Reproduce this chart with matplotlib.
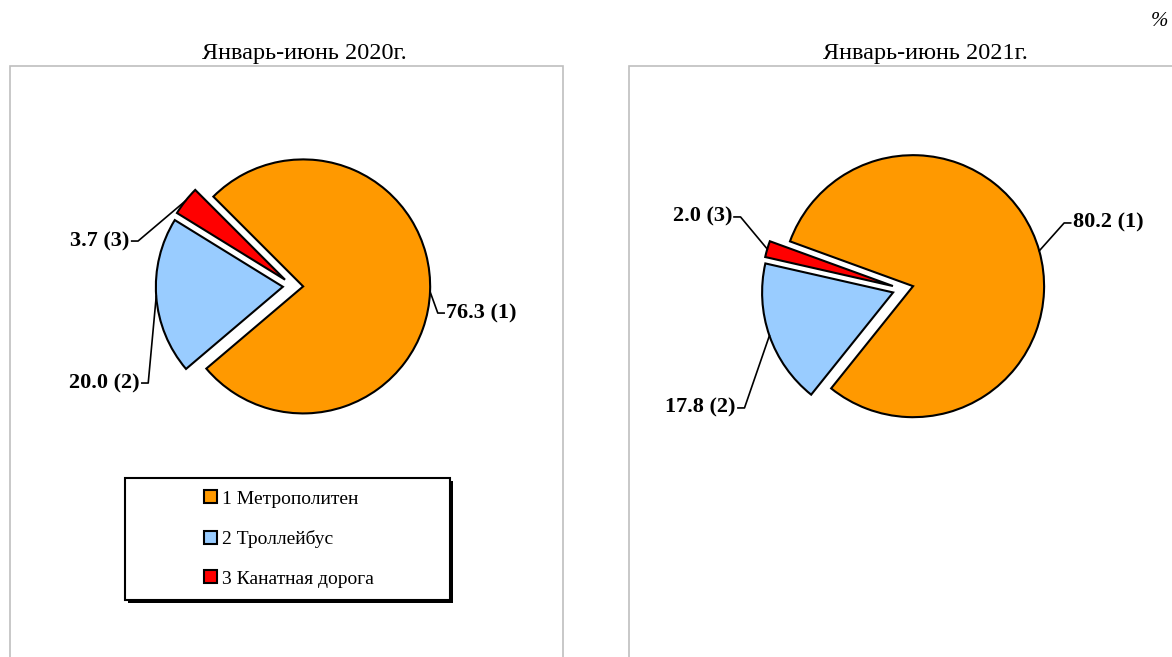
import numpy as np
import matplotlib.pyplot as plt
from matplotlib.patches import Rectangle

plt.rcParams['font.family'] = ['Liberation Serif', 'DejaVu Serif']

categories = ['Метрополитен', 'Троллейбус', 'Канатная дорога']
share_2020 = [76.3, 20.0, 3.7]
share_2021 = [80.2, 17.8, 2.0]
titles = ['Январь-июнь 2020г.', 'Январь-июнь 2021г.']
colours = ['#FF9900', '#99CCFF', '#FF0000']

W, H = 1172, 657


def fx(px):
    return px / W


def fy(py):
    return 1 - py / H


def draw_pie(ax, values, start, labels_pos):
    wedges, _ = ax.pie(values, colors=colours, startangle=start, counterclock=False,
                       explode=[0.08] * len(values),
                       wedgeprops=dict(edgecolor='black', linewidth=1.5))
    for i, (w, v) in enumerate(zip(wedges, values)):
        mid = np.deg2rad((w.theta1 + w.theta2) / 2)
        cx, cy = w.center
        px, py = cx + w.r * np.cos(mid), cy + w.r * np.sin(mid)
        ex, ey, d = labels_pos[i]
        ax.plot([px, ex, ex + 0.05 * d], [py, ey, ey], color='black', lw=1.2)
        ax.text(ex + 0.065 * d, ey, f"{v:.1f} ({i + 1})", ha='left' if d > 0 else 'right',
                va='center', fontsize=16, fontweight='bold')
    return wedges


fig = plt.figure(figsize=(11.72, 6.57), dpi=100)

# panel borders
for x0, x1 in [(10, 563), (629, 1190)]:
    fig.patches.append(Rectangle((fx(x0), -0.1), fx(x1) - fx(x0), fy(66) + 0.1,
                                 transform=fig.transFigure, fill=False,
                                 edgecolor='#BFBFBF', lw=1.2))

# left pie, centre (293, 286) px, radius 127 px
ax1 = fig.add_axes([fx(293 - 250), fy(286 + 250), 500 / W, 500 / H])
lim = 250 / 127
draw_pie(ax1, share_2020, 135,
         [(1.14, -0.213, 1), (-1.14, -0.764, -1), (-1.22, 0.354, -1)])
ax1.set_xlim(-lim, lim)
ax1.set_ylim(-lim, lim)
ax1.set_aspect('equal')
ax1.axis('off')

# right pie, centre (903, 289) px, radius 131 px
ax2 = fig.add_axes([fx(903 - 250), fy(289 + 250), 500 / W, 500 / H])
lim = 250 / 131
draw_pie(ax2, share_2021, 160,
         [(1.23, 0.504, 1), (-1.21, -0.908, -1), (-1.24, 0.55, -1)])
ax2.set_xlim(-lim, lim)
ax2.set_ylim(-lim, lim)
ax2.set_aspect('equal')
ax2.axis('off')

# titles
fig.text(fx(1160), fy(22), '%', ha='center', va='center', fontsize=15, style='italic')
fig.text(fx(304), fy(54), titles[0], ha='center', va='center', fontsize=17.5)
fig.text(fx(925), fy(54), titles[1], ha='center', va='center', fontsize=17.5)

# legend box with shadow
fig.patches.append(Rectangle((fx(128), fy(603)), (450 - 125) / W, (600 - 478) / H,
                             transform=fig.transFigure, facecolor='black', edgecolor='none'))
fig.patches.append(Rectangle((fx(125), fy(600)), (450 - 125) / W, (600 - 478) / H,
                             transform=fig.transFigure, facecolor='white',
                             edgecolor='black', lw=1.5))
handles = [Rectangle((0, 0), 1, 1, facecolor=c, edgecolor='black', lw=1.5) for c in colours]
fig.legend(handles, [f"{i + 1} {c}" for i, c in enumerate(categories)],
           loc='center', bbox_to_anchor=(fx(289), fy(539)), frameon=False,
           fontsize=14, labelspacing=1.15, handlelength=0.65, handleheight=0.65,
           handletextpad=0.25)

fig.savefig('out.png', dpi=100)
